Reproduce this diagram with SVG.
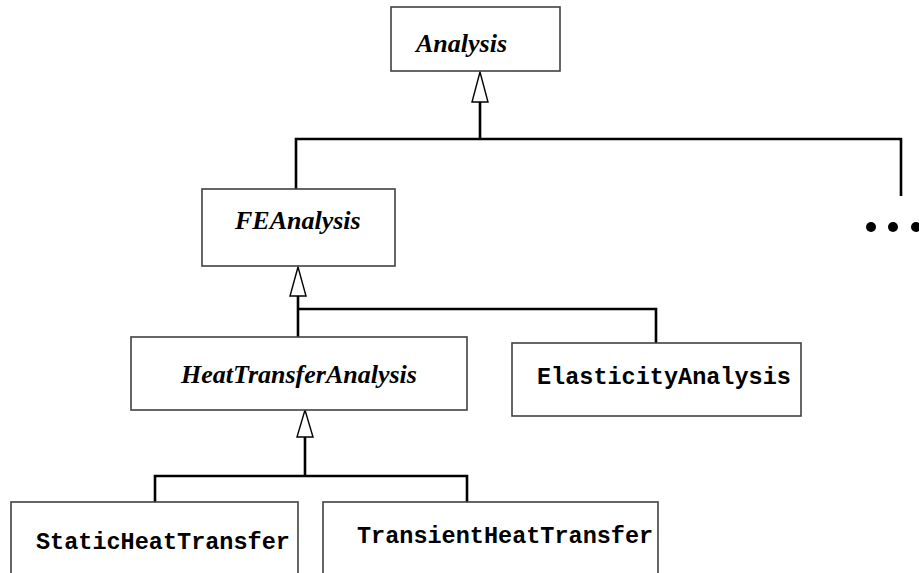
<svg xmlns="http://www.w3.org/2000/svg" width="919" height="573" viewBox="0 0 919 573">
<defs>
<style>
.box{fill:#fff;stroke:#404040;stroke-width:1.6}
.it{font-family:"Liberation Serif",serif;font-style:italic;font-weight:bold;font-size:26px;fill:#000}
.mono{font-family:"Liberation Mono",monospace;font-weight:bold;font-size:23.5px;fill:#000}
.ln{fill:none;stroke:#000;stroke-width:2.6}
.tri{fill:#fff;stroke:#000;stroke-width:1.4}
</style>
</defs>
<rect width="919" height="573" fill="#fff"/>
<g id="connectors">
<path class="ln" d="M480 102 V139 M296 189 V139 H901 V196"/>
<polygon class="tri" points="480,72 472,102 488,102"/>
<path class="ln" d="M298 296 V337 M298 309 H656 V343"/>
<polygon class="tri" points="298,267 290,296 306,296"/>
<path class="ln" d="M305 437 V476 M155 502 V476 H467 V502"/>
<polygon class="tri" points="305,410 297,437 313,437"/>
</g>
<g id="Analysis"><rect class="box" x="391" y="7" width="169" height="64"/><text class="it" x="416" y="52">Analysis</text></g>
<g id="FEAnalysis"><rect class="box" x="202" y="189" width="193" height="77"/><text class="it" x="235" y="229">FEAnalysis</text></g>
<g id="HeatTransferAnalysis"><rect class="box" x="131" y="337" width="336" height="73"/><text class="it" x="181" y="383">HeatTransferAnalysis</text></g>
<g id="ElasticityAnalysis"><rect class="box" x="512" y="343" width="289" height="73"/><text class="mono" x="537" y="384">ElasticityAnalysis</text></g>
<g id="StaticHeatTransfer"><rect class="box" x="11" y="502" width="287" height="80"/><text class="mono" x="36" y="549">StaticHeatTransfer</text></g>
<g id="TransientHeatTransfer"><rect class="box" x="323" y="502" width="335" height="80"/><text class="mono" x="357" y="543">TransientHeatTransfer</text></g>
<g id="more"><circle cx="871" cy="227" r="5"/><circle cx="893" cy="227" r="5"/><circle cx="916" cy="227" r="5"/></g>
</svg>
